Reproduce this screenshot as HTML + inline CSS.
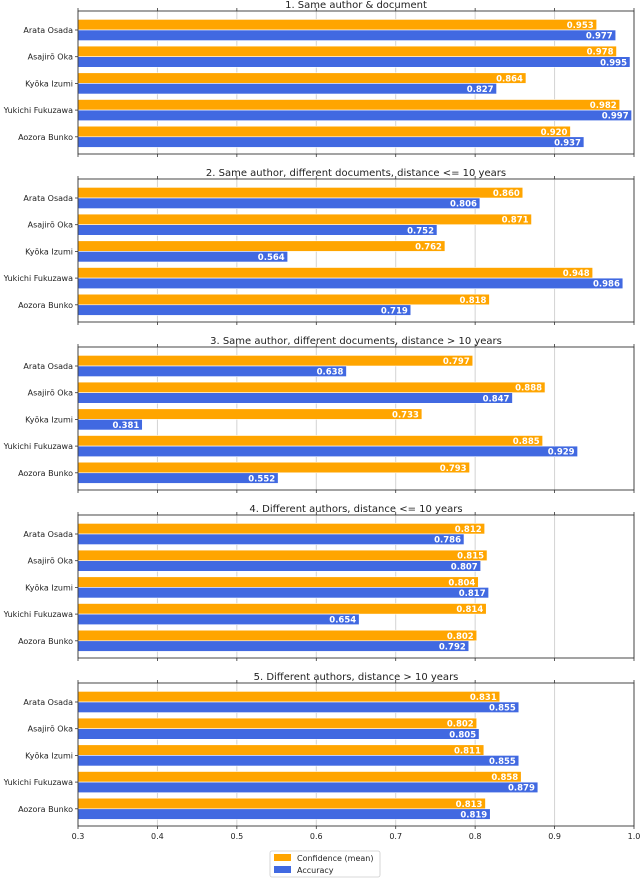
<!DOCTYPE html>
<html><head><meta charset="utf-8"><style>body{margin:0;background:#fff}svg{display:block;font-family:"DejaVu Sans","Liberation Sans",sans-serif}</style></head>
<body>
<svg id="chart" width="640" height="878" xmlns="http://www.w3.org/2000/svg"></svg>
<script>
const categories = ["Arata Osada","Asajirō Oka","Kyōka Izumi","Yukichi Fukuzawa","Aozora Bunko"];
const panelTitles = ["1. Same author & document","2. Same author, different documents, distance <= 10 years","3. Same author, different documents, distance > 10 years","4. Different authors, distance <= 10 years","5. Different authors, distance > 10 years"];
const confidence = [
 [0.953,0.978,0.864,0.982,0.920],
 [0.860,0.871,0.762,0.948,0.818],
 [0.797,0.888,0.733,0.885,0.793],
 [0.812,0.815,0.804,0.814,0.802],
 [0.831,0.802,0.811,0.858,0.813]];
const accuracy = [
 [0.977,0.995,0.827,0.997,0.937],
 [0.806,0.752,0.564,0.986,0.719],
 [0.638,0.847,0.381,0.929,0.552],
 [0.786,0.807,0.817,0.654,0.792],
 [0.855,0.805,0.855,0.879,0.819]];
const xTicks = [0.3,0.4,0.5,0.6,0.7,0.8,0.9,1.0];
const xTickLabels = ["0.3","0.4","0.5","0.6","0.7","0.8","0.9","1.0"];

const svg = document.getElementById('chart');
const NS='http://www.w3.org/2000/svg';
const X0=78,X1=634,XMIN=0.3,XMAX=1.0;
const xs=v=>X0+(v-XMIN)/(XMAX-XMIN)*(X1-X0);
const PH=143, PSTEP=168, PTOP=11;
function mk(tag,attrs,parent){const e=document.createElementNS(NS,tag);for(const k in attrs)e.setAttribute(k,attrs[k]);(parent||svg).appendChild(e);return e;}
function txt(s,attrs,parent){const e=mk('text',attrs,parent);e.textContent=s;return e;}

panelTitles.forEach((t,p)=>{
  const top=PTOP+p*PSTEP, bot=top+PH;
  const g=mk('g',{});
  
  
  const ys=i=>top+19+i*26.7;
  xTicks.forEach(v=>{
    const l=mk('line',{x1:xs(v),x2:xs(v),y1:top,y2:bot,stroke:'#d3d3d3','stroke-width':1},g);
    
    
  });
  const tt=txt(t,{x:(X0+X1)/2,y:top-3,'text-anchor':'middle','font-size':10,fill:'#222'},g);
  
  
  categories.forEach((c,i)=>{
    const cy=ys(i);
    const b1=mk('rect',{x:X0,y:cy-10.6,width:xs(confidence[p][i])-X0,height:10.6,fill:'#FFA500',stroke:'#fff','stroke-width':0.6},g);
    
    
    const b2=mk('rect',{x:X0,y:cy,width:xs(accuracy[p][i])-X0,height:10.6,fill:'#4169E1',stroke:'#fff','stroke-width':0.6},g);
    
    
    const l1=txt(confidence[p][i].toFixed(3),{x:xs(confidence[p][i])-3,y:cy-2,'text-anchor':'end','font-size':8.5,'font-weight':'bold',fill:'#fff'},g);
    
    
    const l2=txt(accuracy[p][i].toFixed(3),{x:xs(accuracy[p][i])-3,y:cy+8.6,'text-anchor':'end','font-size':8.5,'font-weight':'bold',fill:'#fff'},g);
    
    
    mk('line',{x1:X0-3,x2:X0,y1:cy,y2:cy,stroke:'#333','stroke-width':0.8},g);
    const cl=txt(c,{x:X0-5,y:cy+3,'text-anchor':'end','font-size':8,fill:'#222'},g);
    
    
  });
  xTicks.forEach(v=>{
    mk('line',{x1:xs(v),x2:xs(v),y1:bot,y2:bot+3,stroke:'#333','stroke-width':0.8},g);
    mk('line',{x1:xs(v),x2:xs(v),y1:top-3,y2:top,stroke:'#333','stroke-width':0.8},g);
  });
  const fr=mk('rect',{x:X0,y:top,width:X1-X0,height:PH,fill:'none',stroke:'#333','stroke-width':0.9},g);
  
  
  if(p===panelTitles.length-1){
    xTicks.forEach((v,k)=>{
      const tl=txt(xTickLabels[k],{x:xs(v),y:bot+13,'text-anchor':'middle','font-size':8,fill:'#222'},g);
      
      
    });
  }
});
const lg=mk('g',{});


mk('rect',{x:270,y:851,width:110,height:26,fill:'#fff',stroke:'#ccc','stroke-width':0.8,rx:2},lg);
mk('rect',{x:274,y:854,width:17,height:7,fill:'#FFA500'},lg);
mk('rect',{x:274,y:866,width:17,height:7,fill:'#4169E1'},lg);
const le1=txt('Confidence (mean)',{x:297,y:861,'font-size':8,fill:'#222'},lg);


const le2=txt('Accuracy',{x:297,y:873,'font-size':8,fill:'#222'},lg);


</script>
</body></html>
